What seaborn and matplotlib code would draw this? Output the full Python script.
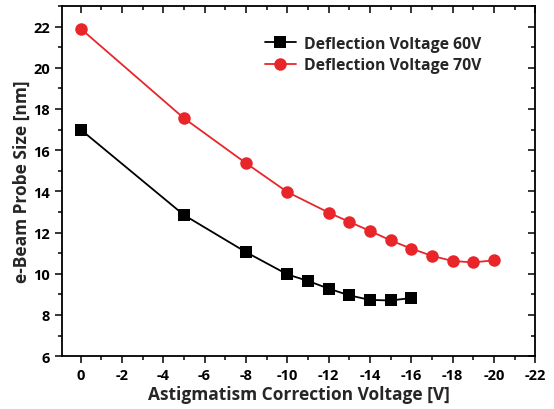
import matplotlib
matplotlib.use("Agg")
import matplotlib.pyplot as plt
import seaborn as sns
import pandas as pd
from matplotlib.ticker import MultipleLocator

x60 = [0, -5, -8, -10, -11, -12, -13, -14, -15, -16]
y60 = [17.0, 12.85, 11.05, 9.97, 9.65, 9.28, 8.95, 8.73, 8.70, 8.82]
x70 = [0, -5, -8, -10, -12, -13, -14, -15, -16, -17, -18, -19, -20]
y70 = [21.9, 17.55, 15.37, 13.97, 12.97, 12.52, 12.08, 11.62, 11.22, 10.87, 10.62, 10.55, 10.65]
labels = ["Deflection Voltage 60V", "Deflection Voltage 70V"]

df = pd.concat([
    pd.DataFrame({"x": x60, "y": y60, "s": labels[0]}),
    pd.DataFrame({"x": x70, "y": y70, "s": labels[1]}),
])

sns.set_style("ticks")
plt.rcParams['font.family'] = ['Open Sans', 'DejaVu Sans']
plt.rcParams['font.weight'] = 'bold'

fig = plt.figure(figsize=(5.54, 4.10), dpi=100)
ax = fig.add_axes([0.112, 0.129, 0.854, 0.854])

sns.lineplot(data=df, x="x", y="y", hue="s", style="s",
             palette={labels[0]: "black", labels[1]: "#e8262a"},
             markers={labels[0]: "s", labels[1]: "o"},
             dashes=False, markersize=9, markeredgewidth=0,
             linewidth=1.3, ax=ax)

ax.set_xlim(0.9, -22)
ax.set_ylim(6, 23)
ax.xaxis.set_major_locator(MultipleLocator(2))
ax.xaxis.set_minor_locator(MultipleLocator(1))
ax.yaxis.set_major_locator(MultipleLocator(2))
ax.yaxis.set_minor_locator(MultipleLocator(1))
ax.set_xticks(range(0, -23, -2))
ax.set_xticklabels([str(v) for v in range(0, -23, -2)])
ax.set_xlim(0.9, -22)

for s in ax.spines.values():
    s.set_linewidth(1.3)
    s.set_color("black")

ax.tick_params(which="both", direction="out", bottom=True, left=True,
               top=True, right=True, width=1.1, labelsize=10.5, colors="black")
ax.tick_params(which="major", length=5)
ax.tick_params(which="minor", length=3)
for t in ax.get_xticklabels() + ax.get_yticklabels():
    t.set_fontweight("bold")

ax.xaxis.set_ticks_position("both")
ax.yaxis.set_ticks_position("both")
for tick in ax.xaxis.get_major_ticks() + ax.xaxis.get_minor_ticks():
    tick.tick2line.set_marker(3)
for tick in ax.yaxis.get_major_ticks() + ax.yaxis.get_minor_ticks():
    tick.tick2line.set_marker(0)

ax.set_xlabel("Astigmatism Correction Voltage [V]", fontsize=12.5, fontweight="bold", labelpad=2)
ax.set_ylabel("e-Beam Probe Size [nm]", fontsize=12.5, fontweight="bold", labelpad=2)

leg = ax.legend(loc="upper right", bbox_to_anchor=(0.916, 0.955), frameon=False,
                fontsize=11.3, handlelength=2.0, handletextpad=0.5, labelspacing=0.35)
for t in leg.get_texts():
    t.set_fontweight("bold")

fig.savefig("out.png", dpi=100)
